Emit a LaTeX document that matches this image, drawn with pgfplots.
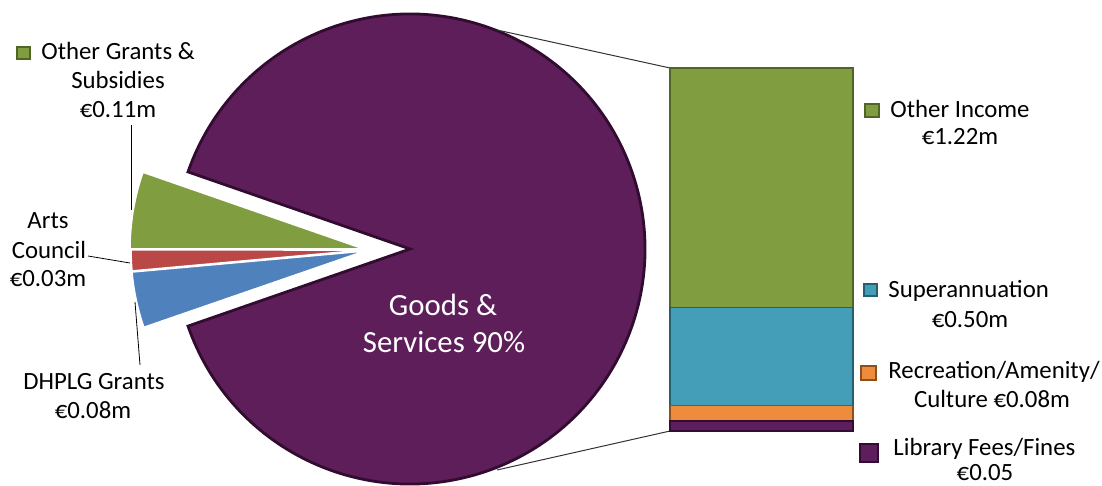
\documentclass[border=0pt]{standalone}
\usepackage{pgfplots}
\pgfplotsset{compat=1.18}
\usepackage{fontspec}
\setmainfont{Carlito}
\definecolor{piepurple}{RGB}{93,30,90}
\definecolor{piepurpled}{RGB}{50,12,48}
\definecolor{cgreen}{RGB}{128,158,64}
\definecolor{cgreend}{RGB}{80,102,38}
\definecolor{cred}{RGB}{185,72,70}
\definecolor{credd}{RGB}{130,45,43}
\definecolor{cblue}{RGB}{79,129,189}
\definecolor{cblued}{RGB}{45,82,125}
\definecolor{cteal}{RGB}{68,158,183}
\definecolor{ctealD}{RGB}{36,96,112}
\definecolor{corange}{RGB}{236,140,60}
\definecolor{corangeD}{RGB}{140,80,30}
\definecolor{cbpurple}{RGB}{92,30,92}
\definecolor{cbpurpleD}{RGB}{50,12,50}
% values (million euro)
\def\vOtherIncome{1.22}
\def\vSuper{0.50}
\def\vRec{0.08}
\def\vLib{0.05}
\def\vGrants{0.11}
\def\vArts{0.03}
\def\vDHPLG{0.08}
\pgfmathsetmacro\vOther{\vOtherIncome+\vSuper+\vRec+\vLib}
\pgfmathsetmacro\vTot{\vOther+\vGrants+\vArts+\vDHPLG}
\pgfmathsetmacro\hA{\vOther/\vTot*180}
\pgfmathsetmacro\aG{\hA+\vGrants/\vTot*360}
\pgfmathsetmacro\aR{\aG+\vArts/\vTot*360}
\pgfmathsetmacro\aB{\aR+\vDHPLG/\vTot*360}
\newcommand{\lbl}{\fontsize{12.4}{14.5}\selectfont}
\begin{document}
\begin{tikzpicture}
\begin{axis}[name=main, scale only axis, width=551pt, height=243pt,
  xmin=0, xmax=1102, ymin=0, ymax=486, y dir=reverse, hide axis, clip=false]
% main slice (the "other" group)
\fill[piepurple, draw=piepurpled, line width=1.4pt] (axis cs:410,249) -- ++(-\hA:117.5pt)
   arc[start angle=-\hA, end angle=\hA, radius=117.5pt] -- cycle;
% exploded small slices
\fill[cgreen, draw=white, line width=0.8pt] (axis cs:364,249) -- ++(\hA:117pt)
   arc[start angle=\hA, end angle=\aG, radius=117pt] -- cycle;
\fill[cred, draw=white, line width=0.8pt] (axis cs:365,250) -- ++(\aG:117pt)
   arc[start angle=\aG, end angle=\aR, radius=117pt] -- cycle;
\fill[cblue, draw=white, line width=0.8pt] (axis cs:365,251) -- ++(\aR:117pt)
   arc[start angle=\aR, end angle=\aB, radius=117pt] -- cycle;
% connectors
\draw[black!80, line width=0.5pt] (axis cs:497,30) -- (axis cs:670,68);
\draw[black!80, line width=0.5pt] (axis cs:497,470) -- (axis cs:670,431);
% leader lines
\draw[black, line width=0.4pt] (axis cs:131,125) -- (axis cs:131,210);
\draw[black, line width=0.4pt] (axis cs:88,256) -- (axis cs:130,263);
\draw[black, line width=0.4pt] (axis cs:140,365) -- (axis cs:135,302);
% pie labels
\fill[cgreen, draw=cgreend, line width=0.6pt] (axis cs:17,47) rectangle (axis cs:30,59);
\node[anchor=base west, inner sep=0pt, font=\lbl] at (axis cs:41,60) {Other Grants \&};
\node[anchor=base, inner sep=0pt, font=\lbl] at (axis cs:118,89) {Subsidies};
\node[anchor=base, inner sep=0pt, font=\lbl] at (axis cs:118,118) {€0.11m};
\node[anchor=base, inner sep=0pt, font=\lbl] at (axis cs:48,228) {Arts};
\node[anchor=base, inner sep=0pt, font=\lbl] at (axis cs:49,258) {Council};
\node[anchor=base, inner sep=0pt, font=\lbl] at (axis cs:48,286) {€0.03m};
\node[anchor=base, inner sep=0pt, font=\lbl] at (axis cs:94,389) {DHPLG Grants};
\node[anchor=base, inner sep=0pt, font=\lbl] at (axis cs:93,418) {€0.08m};
\node[anchor=base, inner sep=0pt, text=white, font=\fontsize{15.4}{18}\selectfont] at (axis cs:443,315) {Goods \&};
\node[anchor=base, inner sep=0pt, text=white, font=\fontsize{15.4}{18}\selectfont] at (axis cs:444,352) {Services 90\%};
% bar labels
\fill[cgreen, draw=cgreend, line width=0.6pt] (axis cs:865,104) rectangle (axis cs:879,117);
\node[anchor=base west, inner sep=0pt, font=\lbl] at (axis cs:890,118) {Other Income};
\node[anchor=base, inner sep=0pt, font=\lbl] at (axis cs:960,145) {€1.22m};
\fill[cteal, draw=ctealD, line width=0.6pt] (axis cs:864,284) rectangle (axis cs:877,296);
\node[anchor=base west, inner sep=0pt, font=\lbl] at (axis cs:888,297) {Superannuation};
\node[anchor=base, inner sep=0pt, font=\lbl] at (axis cs:970,327) {€0.50m};
\fill[corange, draw=corangeD, line width=0.6pt] (axis cs:861,366) rectangle (axis cs:876,380);
\node[anchor=base west, inner sep=0pt, font=\lbl] at (axis cs:888,378) {Recreation/Amenity/};
\node[anchor=base, inner sep=0pt, font=\lbl] at (axis cs:992,407) {Culture €0.08m};
\fill[cbpurple, draw=cbpurpleD, line width=0.6pt] (axis cs:860,444) rectangle (axis cs:878,462);
\node[anchor=base west, inner sep=0pt, font=\lbl] at (axis cs:893,455) {Library Fees/Fines};
\node[anchor=base, inner sep=0pt, font=\lbl] at (axis cs:985,480) {€0.05};
\end{axis}
\begin{axis}[at={(335pt,27.5pt)}, anchor=south west, scale only axis,
  width=91.5pt, height=181.5pt, xmin=-0.5, xmax=0.5, ymin=0, ymax=1.85,
  hide axis, ybar stacked, bar width=91.5pt, clip=false]
\addplot[fill=cbpurple, draw=cbpurpleD, line width=0.8pt] coordinates {(0,\vLib)};
\addplot[fill=corange, draw=corangeD, line width=0.8pt] coordinates {(0,\vRec)};
\addplot[fill=cteal, draw=ctealD, line width=0.8pt] coordinates {(0,\vSuper)};
\addplot[fill=cgreen, draw=cgreend, line width=0.8pt] coordinates {(0,\vOtherIncome)};
\end{axis}
\pgfresetboundingbox
\path (0,0) rectangle (551pt,243pt);
\end{tikzpicture}
\end{document}
